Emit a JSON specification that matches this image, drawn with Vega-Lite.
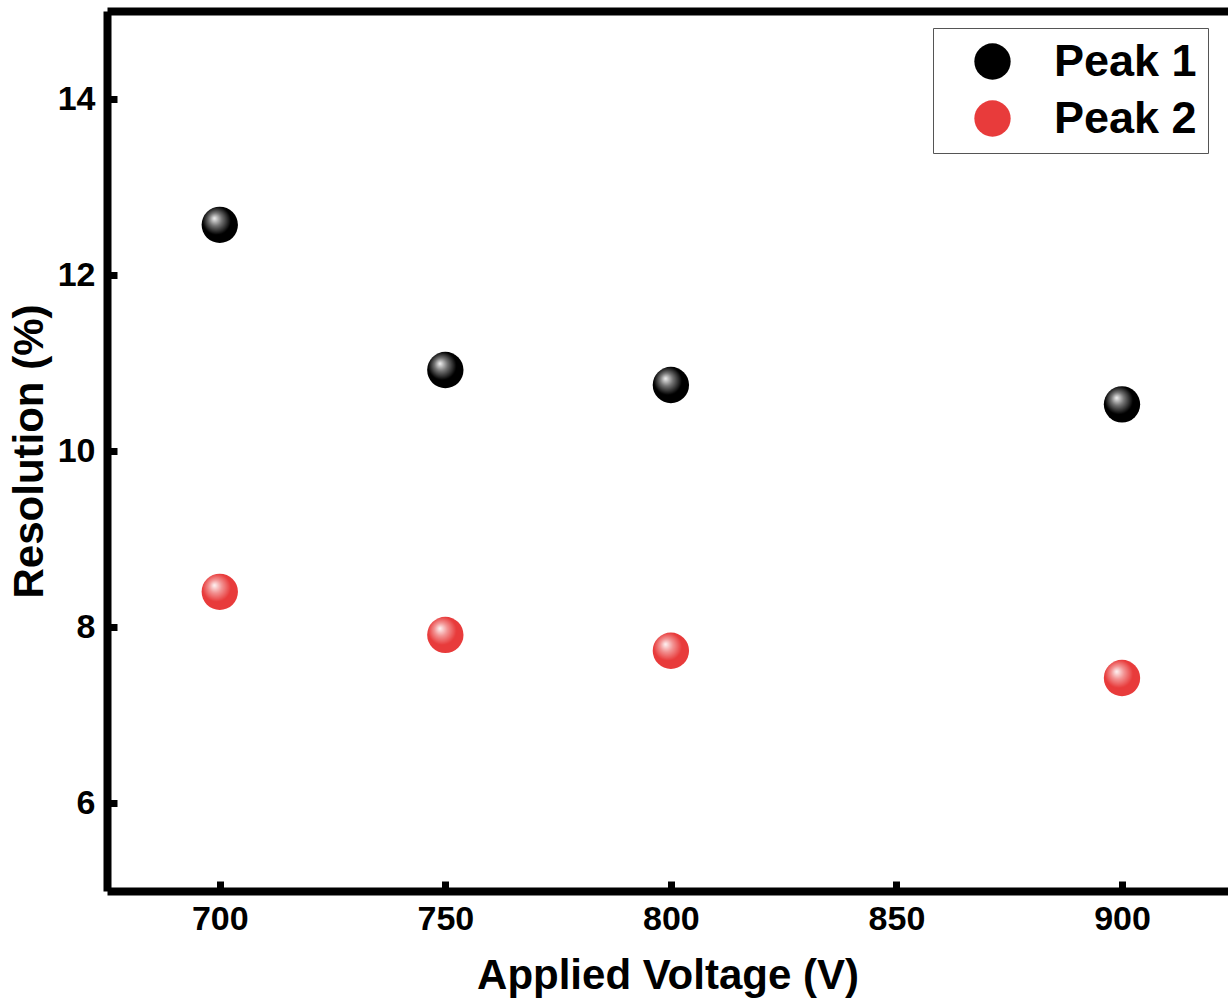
{
  "$schema": "https://vega.github.io/schema/vega-lite/v6.json",
  "width": 1121,
  "height": 880,
  "autosize": {"type": "none"},
  "padding": {"left": 107, "top": 11, "right": 0, "bottom": 108},
  "background": "white",
  "view": {"stroke": null},
  "config": {
    "font": "Liberation Sans",
    "axis": {
      "domainColor": "black", "domainWidth": 8, "tickColor": "black",
      "tickSize": -10, "tickWidth": 7, "grid": false,
      "labelFont": "Liberation Sans", "labelFontWeight": "bold", "labelFontSize": 34, "labelColor": "black",
      "titleFont": "Liberation Sans", "titleFontWeight": "bold", "titleFontSize": 42, "titleColor": "black"
    },
    "legend": {
      "labelFont": "Liberation Sans", "labelFontWeight": "bold", "labelFontSize": 45, "labelColor": "black"
    }
  },
  "data": {
    "values": [
      {"voltage": 700, "resolution": 12.57, "peak": "Peak 1"},
      {"voltage": 750, "resolution": 10.92, "peak": "Peak 1"},
      {"voltage": 800, "resolution": 10.75, "peak": "Peak 1"},
      {"voltage": 900, "resolution": 10.53, "peak": "Peak 1"},
      {"voltage": 700, "resolution": 8.40, "peak": "Peak 2"},
      {"voltage": 750, "resolution": 7.91, "peak": "Peak 2"},
      {"voltage": 800, "resolution": 7.73, "peak": "Peak 2"},
      {"voltage": 900, "resolution": 7.42, "peak": "Peak 2"}
    ]
  },
  "layer": [
    {
      "mark": {"type": "circle", "size": 1320, "opacity": 1},
      "encoding": {
        "x": {"field": "voltage", "type": "quantitative",
          "scale": {"domain": [675, 923.5], "nice": false, "zero": false},
          "axis": {"title": "Applied Voltage (V)", "values": [700, 750, 800, 850, 900], "format": "d", "labelPadding": 21, "titlePadding": 19, "orient": "bottom"}},
        "y": {"field": "resolution", "type": "quantitative",
          "scale": {"domain": [5, 15], "nice": false, "zero": false},
          "axis": {"title": "Resolution (%)", "values": [6, 8, 10, 12, 14], "format": "d", "labelPadding": 22, "titlePadding": 6}},
        "color": {"field": "peak", "type": "nominal",
          "scale": {"domain": ["Peak 1", "Peak 2"], "range": ["#000000", "#e83b3b"]},
          "legend": {"title": null, "orient": "none", "legendX": 826, "legendY": 17,
            "symbolType": "circle", "symbolSize": 1320, "symbolOpacity": 1, "padding": 11, "symbolOffset": 26,
            "labelOffset": 39, "rowPadding": 11, "strokeColor": "#555555", "fillColor": "white"}}
      }
    },
    {
      "mark": {"type": "circle", "size": 1320, "opacity": 1,
        "fill": {"gradient": "radial", "x1": 0.35, "y1": 0.32, "r1": 0, "x2": 0.45, "y2": 0.42, "r2": 0.6,
          "stops": [
            {"offset": 0, "color": "rgba(255,255,255,0.95)"},
            {"offset": 0.3, "color": "rgba(255,255,255,0.45)"},
            {"offset": 0.65, "color": "rgba(255,255,255,0)"},
            {"offset": 1, "color": "rgba(255,255,255,0)"}
          ]}},
      "encoding": {
        "x": {"field": "voltage", "type": "quantitative",
          "scale": {"domain": [675, 923.5], "nice": false, "zero": false},
          "axis": {"orient": "top", "title": null, "labels": false, "ticks": false}},
        "y": {"field": "resolution", "type": "quantitative"}
      }
    }
  ],
  "resolve": {"scale": {"x": "independent"}, "axis": {"x": "independent"}}
}
